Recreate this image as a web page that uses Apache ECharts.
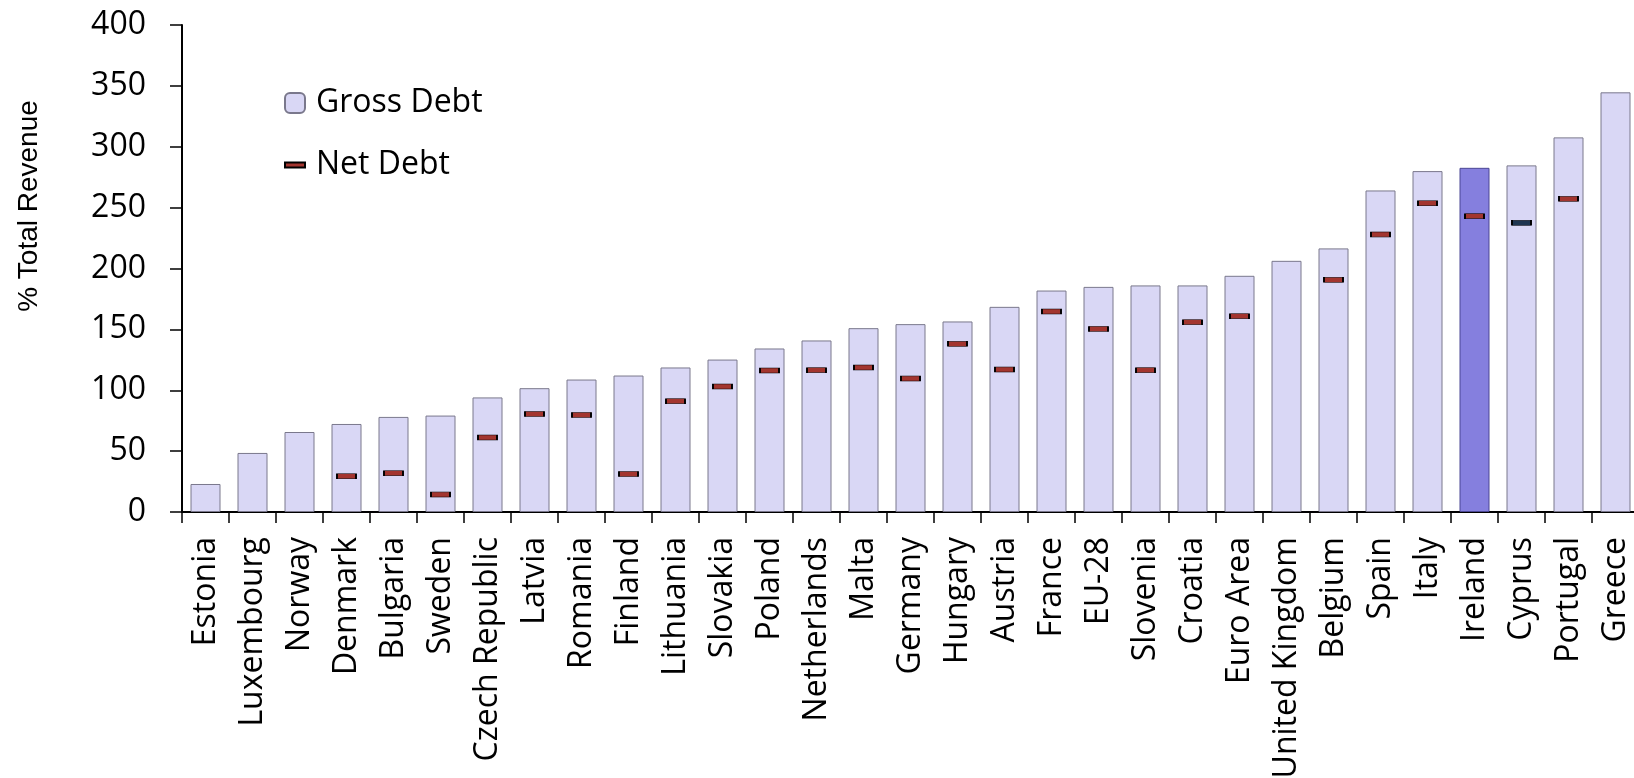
<!DOCTYPE html>
<html>
<head>
<meta charset="utf-8">
<script src="https://cdn.jsdelivr.net/npm/echarts@6/dist/echarts.min.js"></script>
<style>
html,body{margin:0;padding:0;background:#fff;}
#chart{width:1634px;height:778px;}
</style>
</head>
<body>
<div id="chart"></div>
<script>
var categories = ['Estonia','Luxembourg','Norway','Denmark','Bulgaria','Sweden','Czech Republic','Latvia','Romania','Finland','Lithuania','Slovakia','Poland','Netherlands','Malta','Germany','Hungary','Austria','France','EU-28','Slovenia','Croatia','Euro Area','United Kingdom','Belgium','Spain','Italy','Ireland','Cyprus','Portugal','Greece'];
var grossDebt = [23.0, 48.5, 65.7, 72.3, 78.1, 79.2, 94.1, 101.7, 108.8, 112.1, 118.7, 125.2, 134.3, 140.9, 151.0, 154.3, 156.5, 168.5, 181.9, 184.9, 186.1, 186.1, 194.0, 206.3, 216.5, 264.1, 280.0, 282.7, 284.7, 307.7, 344.7];
var netDebt = [null, null, null, 29.3, 31.8, 14.3, 61.2, 80.5, 79.7, 31.2, 91.0, 103.1, 116.2, 116.5, 118.7, 109.6, 138.1, 117.0, 164.7, 150.4, 116.5, 155.9, 160.8, null, 190.7, 228.0, 253.5, 243.0, 237.5, 257.2, null];
var yTicks = [0, 50, 100, 150, 200, 250, 300, 350, 400];
var highlightBar = 'Ireland';
var highlightNet = 'Cyprus';
var yTitle = '% Total Revenue';

var barData = grossDebt.map(function (v, i) {
  if (categories[i] === highlightBar) {
    return { value: v, itemStyle: { color: '#857FDE', borderColor: '#4B4794' } };
  }
  return v;
});
var netData = netDebt.map(function (v, i) {
  if (v === null) return '-';
  if (categories[i] === highlightNet) {
    return { value: v, itemStyle: { color: '#1E3550' } };
  }
  return v;
});

var chart = echarts.init(document.getElementById('chart'));
var font = '"Open Sans", sans-serif';
chart.setOption({
  animation: false,
  backgroundColor: '#ffffff',
  grid: { left: 182, top: 25, width: 1457, bottom: 266, containLabel: false, outerBoundsMode: 'none' },
  legend: [
    {
      data: ['Gross Debt'], left: 284, top: 87, orient: 'vertical', padding: 0,
      itemWidth: 20, itemHeight: 20,
      textStyle: { fontFamily: font, fontSize: 32, color: '#000', padding: [0, 0, 0, 6] }
    },
    {
      data: ['Net Debt'], left: 284, top: 149, orient: 'vertical', padding: 0,
      itemWidth: 20, itemHeight: 5,
      textStyle: { fontFamily: font, fontSize: 32, color: '#000', padding: [0, 0, 0, 6] }
    }
  ],
  xAxis: {
    type: 'category',
    data: categories,
    axisLine: { lineStyle: { color: '#000', width: 2 } },
    axisTick: { show: true, interval: 0, length: 11, lineStyle: { color: '#000', width: 1.5 } },
    axisLabel: { interval: 0, rotate: 90, margin: 25, fontFamily: font, fontSize: 32, color: '#000' },
    splitLine: { show: false }
  },
  yAxis: {
    type: 'value',
    min: yTicks[0], max: yTicks[yTicks.length - 1], interval: 50,
    axisLine: { show: true, lineStyle: { color: '#000', width: 2 } },
    axisTick: { show: true, length: 12, lineStyle: { color: '#000', width: 1.5 } },
    axisLabel: { margin: 36, fontFamily: font, fontSize: 32, color: '#000' },
    splitLine: { show: false }
  },
  graphic: [
    {
      type: 'text', x: 29, y: 206, rotation: Math.PI / 2,
      style: { text: yTitle, font: '28px "Liberation Sans", Arial, sans-serif', fill: '#000', align: 'center', verticalAlign: 'middle' }
    }
  ],
  series: [
    {
      name: 'Gross Debt', type: 'bar', data: barData, barWidth: 30,
      itemStyle: { color: '#D9D7F5', borderColor: '#7A788C', borderWidth: 1 },
      z: 2
    },
    {
      name: 'Net Debt', type: 'scatter', data: netData,
      symbol: 'rect', symbolSize: [19, 5],
      itemStyle: { color: '#A3352F', borderColor: '#000', borderWidth: 1, opacity: 1 },
      z: 5
    }
  ]
});
</script>
</body>
</html>
